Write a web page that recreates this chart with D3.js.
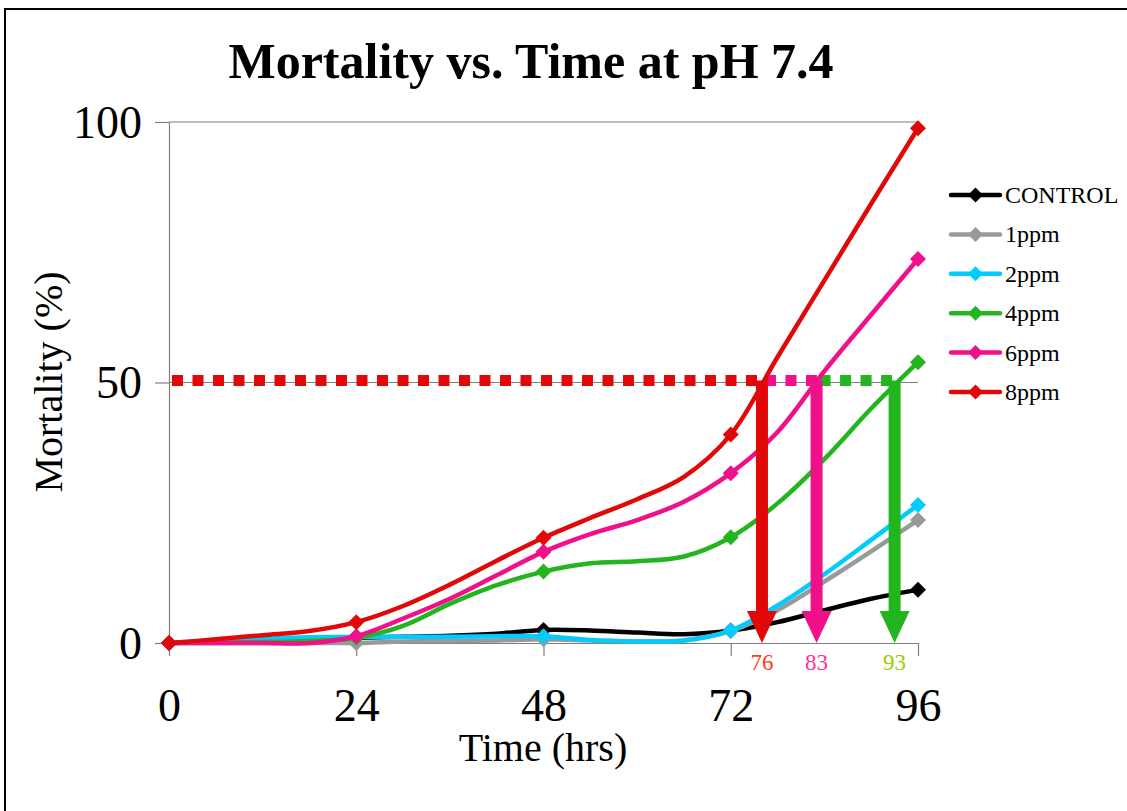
<!DOCTYPE html>
<html>
<head>
<meta charset="utf-8">
<script src="https://cdn.jsdelivr.net/npm/d3@7"></script>
<style>
  html, body { margin: 0; padding: 0; background: #fff; }
  svg { display: block; font-family: "Liberation Serif", "Times New Roman", serif; }
</style>
</head>
<body>
<svg id="chart" width="1127" height="811"></svg>
<script>
// Sampling times (hours) for every series
const hours = [0, 6, 12, 18, 24, 30, 36, 42, 48, 54, 60, 66, 72, 78, 84, 90, 96];

// Mortality (%) per concentration at each sampling time
const control = [0, 0.2, 0.4, 0.7, 1.0, 1.2, 1.4, 1.8, 2.5, 2.4, 2.0, 1.7, 2.4, 4.0, 6.3, 8.5, 10.2];
const ppm1    = [0, 0, 0, 0, 0, 0.3, 0.4, 0.5, 0.7, 0.5, 0.3, 0.5, 2.3, 6.3, 11.8, 17.6, 23.6];
const ppm2    = [0, 0.4, 0.8, 1.1, 1.2, 1.2, 1.2, 1.3, 1.3, 0.6, 0.3, 0.5, 2.4, 7.2, 13.2, 19.8, 26.5];
const ppm4    = [0, 0.1, 0.2, 0.4, 1.0, 3.3, 7.5, 11.1, 13.7, 15.3, 15.7, 16.6, 20.3, 26.8, 35.3, 45.0, 53.9];
const ppm6    = [0, 0, 0, 0, 1.3, 4.7, 8.5, 13.0, 17.5, 20.9, 23.6, 27.1, 32.6, 40.5, 52.2, 63.0, 73.7];
const ppm8    = [0, 0.7, 1.5, 2.3, 4.0, 7.1, 11.2, 15.8, 20.2, 24.0, 27.6, 31.9, 40.0, 54.9, 69.6, 84.3, 98.8];

const seriesNames  = ["CONTROL", "1ppm", "2ppm", "4ppm", "6ppm", "8ppm"];
const seriesValues = [control, ppm1, ppm2, ppm4, ppm6, ppm8];
const seriesColors = ["#000000", "#999999", "#00CCFF", "#22B51E", "#F0108A", "#E00808"];

// Time to 50% mortality (hours) for 8, 6 and 4 ppm
const lt50Hours  = [76, 83, 93];
const lt50Colors = ["#E00808", "#F0108A", "#22B51E"];
const lt50LabelColors = ["#FF3A1A", "#FF3399", "#99CC00"];
const lt50Level = 50;

const xTicks = [0, 24, 48, 72, 96];
const yTicks = [0, 50, 100];
const gridValues = [50, 100];

const svg = d3.select("#chart");

// outer frame
svg.append("rect")
  .attr("x", 5).attr("y", 9)
  .attr("width", 1300).attr("height", 1000)
  .attr("fill", "none").attr("stroke", "#000").attr("stroke-width", 2);

const x = d3.scaleLinear().domain([0, 96]).range([169, 918]);
const y = d3.scaleLinear().domain([0, 100]).range([643, 122]);

// title
svg.append("text")
  .attr("x", 531).attr("y", 78)
  .attr("text-anchor", "middle")
  .attr("font-size", 50).attr("font-weight", "bold")
  .text("Mortality vs. Time at pH 7.4");

// gridlines
svg.append("g").selectAll("line").data(gridValues).join("line")
  .attr("x1", x(0)).attr("x2", x(96))
  .attr("y1", d => y(d)).attr("y2", d => y(d))
  .attr("stroke", "#7f7f7f").attr("stroke-width", 1.2);

// y axis
const yAxis = svg.append("g")
  .attr("transform", `translate(${x(0)},0)`)
  .call(d3.axisLeft(y).tickValues(yTicks).tickSize(14).tickSizeOuter(0).tickPadding(14));
yAxis.select(".domain").attr("stroke", "#7f7f7f").attr("stroke-width", 1.2);
yAxis.selectAll(".tick line").attr("stroke", "#7f7f7f").attr("stroke-width", 1.2);
yAxis.selectAll(".tick text")
  .attr("font-family", "Liberation Serif, Times New Roman, serif")
  .attr("font-size", 46).attr("fill", "#000")
  .attr("x", -27).attr("dy", "0.33em");

// x axis
const xAxis = svg.append("g")
  .attr("transform", `translate(0,${y(0)})`)
  .call(d3.axisBottom(x).tickValues(xTicks).tickSize(13).tickSizeOuter(0));
xAxis.select(".domain").attr("stroke", "#7f7f7f").attr("stroke-width", 1.2);
xAxis.selectAll(".tick line").attr("stroke", "#7f7f7f").attr("stroke-width", 1.2);
xAxis.selectAll(".tick text")
  .attr("font-family", "Liberation Serif, Times New Roman, serif")
  .attr("font-size", 46).attr("fill", "#000")
  .attr("y", 78).attr("dy", 0);

// axis titles
svg.append("text")
  .attr("x", 543).attr("y", 761)
  .attr("text-anchor", "middle").attr("font-size", 40)
  .text("Time (hrs)");
svg.append("text")
  .attr("transform", "translate(62,382) rotate(-90)")
  .attr("text-anchor", "middle").attr("font-size", 40)
  .text("Mortality (%)");

// 50% mortality reference, dashed in the colour of each crossing series
const segStarts = [0].concat(lt50Hours.slice(0, -1));
const dashes = svg.append("g");
lt50Hours.forEach((h, i) => {
  dashes.append("line")
    .attr("x1", x(segStarts[i]) + 3).attr("x2", x(h) + 6)
    .attr("y1", y(lt50Level) - 2).attr("y2", y(lt50Level) - 2)
    .attr("stroke", lt50Colors[i]).attr("stroke-width", 11)
    .attr("stroke-dasharray", "11 9.5");
});

// series lines and markers
const line = d3.line()
  .x((d, i) => x(hours[i]))
  .y(d => y(d))
  .curve(d3.curveCatmullRom.alpha(0.5));

const diamond = r => `M0,${-r}L${r},0L0,${r}L${-r},0Z`;

seriesValues.forEach((vals, s) => {
  const g = svg.append("g");
  g.append("path")
    .attr("d", line(vals))
    .attr("fill", "none")
    .attr("stroke", seriesColors[s])
    .attr("stroke-width", 4.5)
    .attr("stroke-linejoin", "round");
  g.selectAll("path.mk")
    .data(vals.map((v, i) => ({ h: hours[i], v })).filter(d => d.h % 24 === 0))
    .join("path")
    .attr("class", "mk")
    .attr("transform", d => `translate(${x(d.h)},${y(d.v)})`)
    .attr("d", diamond(8))
    .attr("fill", seriesColors[s]);
});

// arrows down to the time axis at each LT50
const arrows = svg.append("g");
lt50Hours.forEach((h, i) => {
  const cx = x(h);
  const headH = 32, headW = 15;
  arrows.append("rect")
    .attr("x", cx - 6).attr("width", 12)
    .attr("y", y(lt50Level) - 2)
    .attr("height", y(0) - headH + 2 - (y(lt50Level) - 2))
    .attr("fill", lt50Colors[i]);
  arrows.append("path")
    .attr("d", `M${cx - headW},${y(0) - headH}L${cx + headW},${y(0) - headH}L${cx},${y(0)}Z`)
    .attr("fill", lt50Colors[i]);
  arrows.append("text")
    .attr("x", cx).attr("y", y(0) + 27)
    .attr("text-anchor", "middle")
    .attr("font-size", 23)
    .attr("fill", lt50LabelColors[i])
    .text(h);
});

// legend
const legend = svg.append("g").attr("transform", "translate(951,195)");
seriesNames.forEach((name, i) => {
  const row = legend.append("g").attr("transform", `translate(0,${i * 39.4})`);
  row.append("line")
    .attr("x1", 0).attr("x2", 49)
    .attr("stroke", seriesColors[i]).attr("stroke-width", 4.5)
    .attr("stroke-linecap", "round");
  row.append("path")
    .attr("transform", "translate(24.5,0)")
    .attr("d", diamond(7.5))
    .attr("fill", seriesColors[i]);
  row.append("text")
    .attr("x", 54).attr("dy", "0.33em")
    .attr("font-size", 24)
    .text(name);
});
</script>
</body>
</html>
